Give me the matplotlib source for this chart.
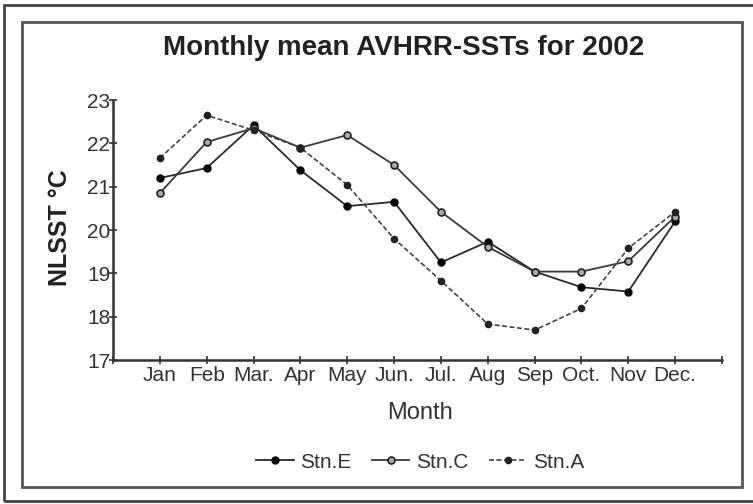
import matplotlib
matplotlib.use("Agg")
import matplotlib.pyplot as plt
from matplotlib.patches import Rectangle

months = ["Jan", "Feb", "Mar.", "Apr", "May", "Jun.", "Jul.", "Aug", "Sep", "Oct.", "Nov", "Dec."]
stn_e = [21.2, 21.43, 22.42, 21.38, 20.55, 20.65, 19.25, 19.73, 19.04, 18.68, 18.58, 20.2]
stn_c = [20.85, 22.03, 22.35, 21.9, 22.19, 21.5, 20.42, 19.61, 19.04, 19.04, 19.28, 20.31]
stn_a = [21.66, 22.65, 22.3, 21.9, 21.04, 19.8, 18.83, 17.83, 17.69, 18.19, 19.58, 20.42]
y_ticks = [17, 18, 19, 20, 21, 22, 23]

plt.rcParams['font.family'] = ['Liberation Sans', 'DejaVu Sans']

W, H = 753, 504
fig = plt.figure(figsize=(W / 100, H / 100), dpi=100)

def px_rect(x0, y0, x1, y1, lw, color):
    fig.patches.append(Rectangle((x0 / W, 1 - y1 / H), (x1 - x0) / W, (y1 - y0) / H,
                                 transform=fig.transFigure, fill=False,
                                 linewidth=lw, edgecolor=color, zorder=0))

px_rect(4, 5, 760, 501, 2.0, "#444444")
px_rect(22, 22, 742, 487, 2.0, "#555555")

ax = fig.add_axes([113 / W, 1 - 360 / H, (722 - 113) / W, (360 - 100) / H])
x = list(range(1, len(months) + 1))
ax.plot(x, stn_e, '-', color="#2a2a2a", lw=1.3, marker='o', ms=5, mfc='black', mec='black', label="Stn.E")
ax.plot(x, stn_c, '-', color="#3a3a3a", lw=1.3, marker='o', ms=5, mfc='#aaaaaa', mec='#222222', mew=1.2, label="Stn.C")
ax.plot(x, stn_a, '--', color="#444444", lw=1.2, dashes=(3, 1.5), marker='o', ms=4.5, mfc='#222222', mec='#222222', label="Stn.A")

ax.set_xlim(0, 13)
ax.set_ylim(17, 23)
ax.set_xticks(range(0, 14))
ax.set_xticklabels([""] + months + [""])
ax.set_yticks(y_ticks)
ax.set_yticklabels([str(v) for v in y_ticks])
for s in ["top", "right"]:
    ax.spines[s].set_visible(False)
for s in ["left", "bottom"]:
    ax.spines[s].set_color("#333333")
    ax.spines[s].set_linewidth(1.8)
ax.tick_params(axis='both', direction='inout', length=6, width=1.2, color="#333333",
               labelsize=15, labelcolor="#333333")
ax.tick_params(axis='y', pad=-1)
ax.tick_params(axis='x', pad=1)

fig.text(404 / W, 1 - 48 / H, "Monthly mean AVHRR-SSTs for 2002", ha='center', va='center',
         fontsize=20, fontweight='bold', color="#222222")
fig.text(60 / W, 1 - 228 / H, "NLSST °C", ha='center', va='center', rotation=90,
         fontsize=18, fontweight='bold', color="#222222")
fig.text(420 / W, 1 - 413 / H, "Month", ha='center', va='center', fontsize=17, color="#333333")

fig.legend(loc='center', bbox_to_anchor=(420 / W, 1 - 462 / H), ncol=3, frameon=False,
           fontsize=15, handlelength=1.8, columnspacing=1.0, handletextpad=0.3,
           labelcolor="#333333")

fig.savefig("out.png", dpi=100)
